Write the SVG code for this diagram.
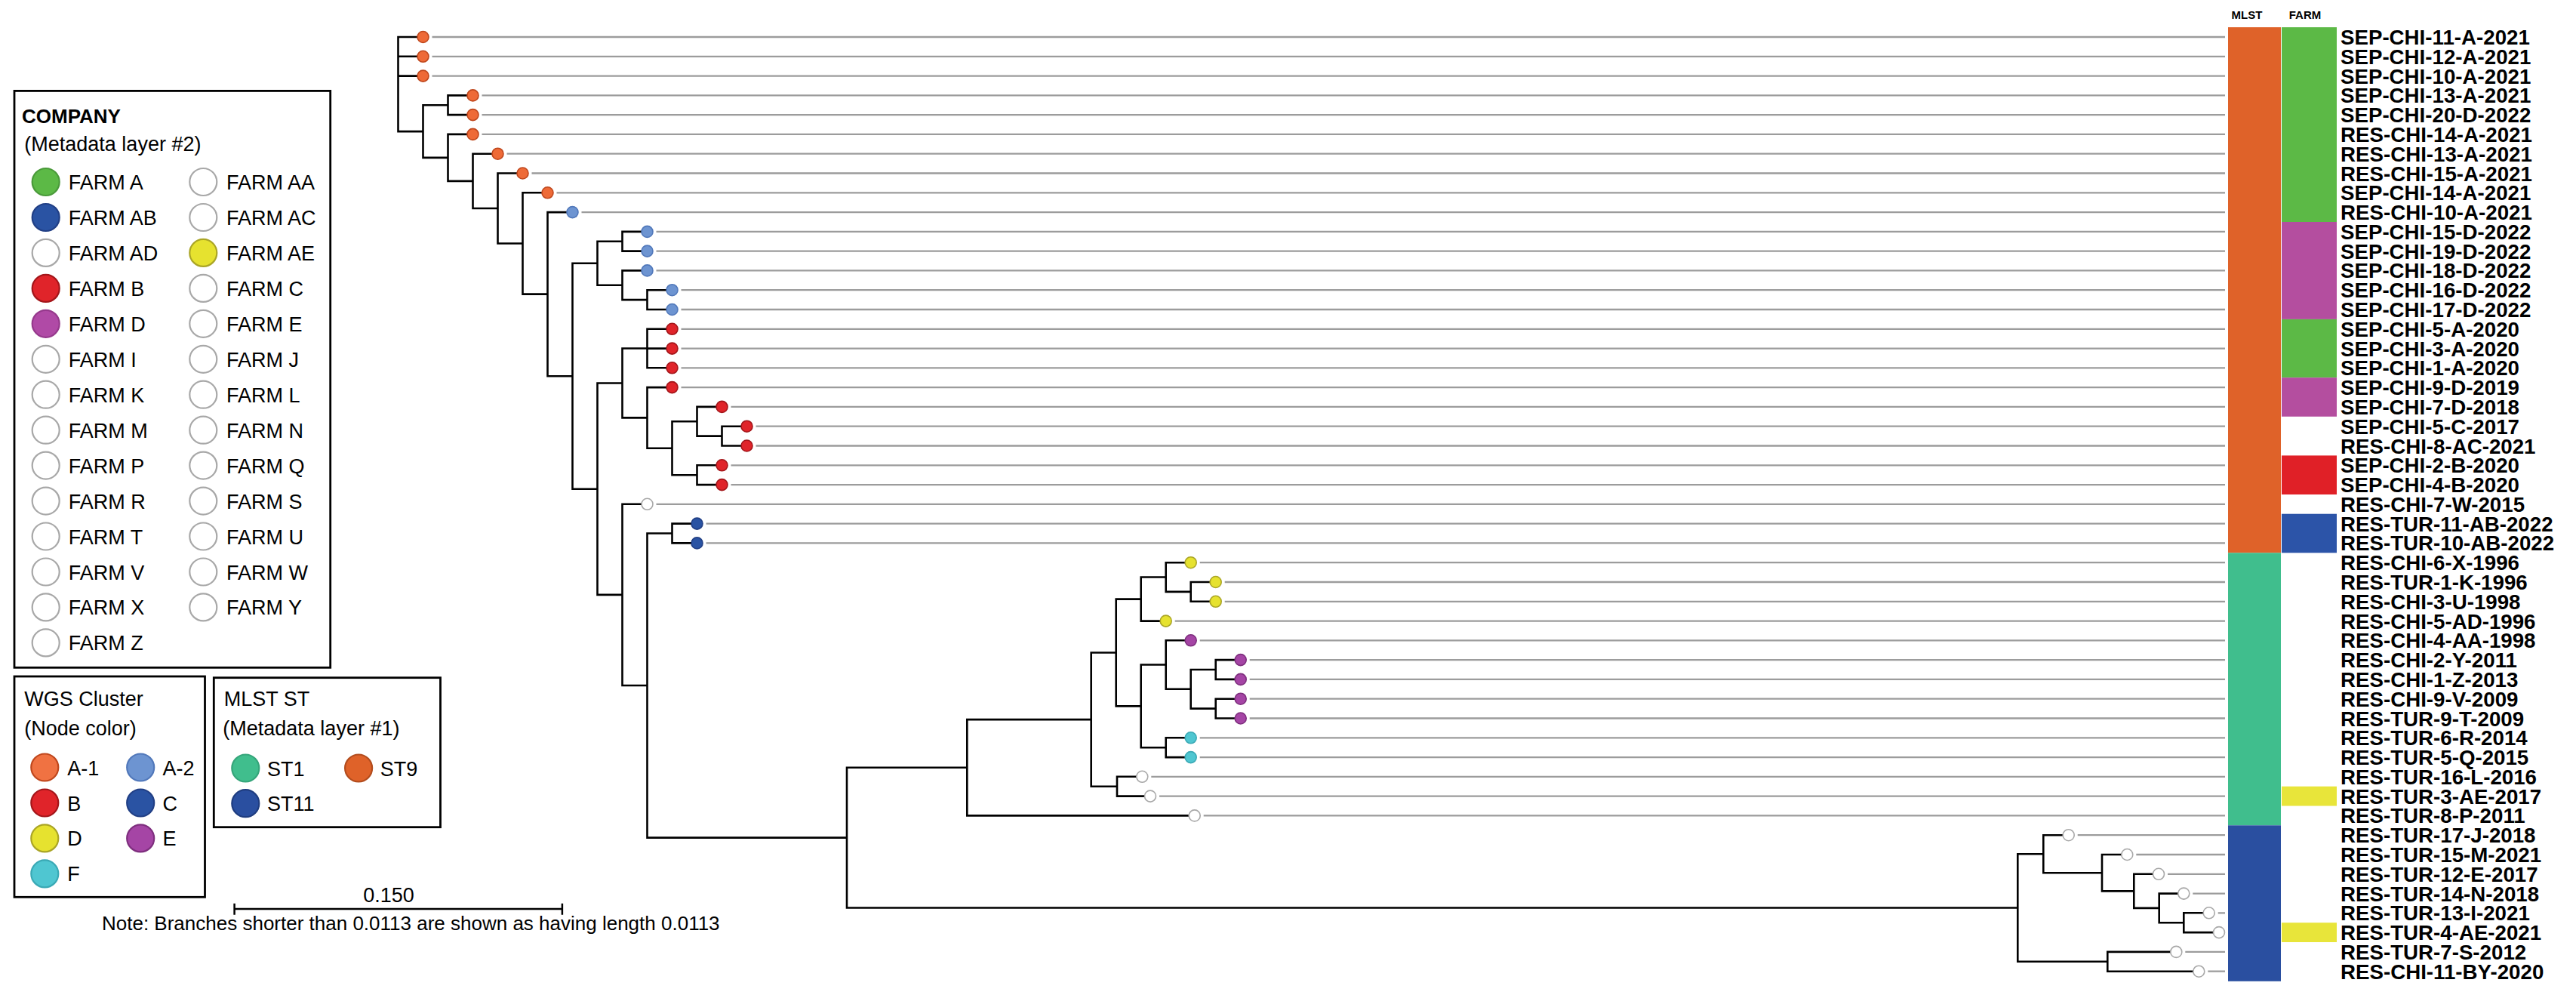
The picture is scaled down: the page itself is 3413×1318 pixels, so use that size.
<svg xmlns="http://www.w3.org/2000/svg" width="3413" height="1318" viewBox="0 0 3413 1318">
<style>
text{font-family:"Liberation Sans",Arial,sans-serif;fill:#000}
.lbl{font-size:27.7px;font-weight:bold}
.lg{font-size:27px}
.hd{font-size:15px;font-weight:bold}
.tree{fill:none;stroke:#000;stroke-width:2.6;stroke-linejoin:miter;stroke-linecap:square}
.lead{fill:none;stroke:#9c9c9c;stroke-width:2.3}
.box{fill:none;stroke:#000;stroke-width:2.8}
.o{fill:#ee6a37;stroke:#bf471d}
.lb{fill:#6d94d1;stroke:#5178ba}
.r{fill:#e0242a;stroke:#a3161a}
.db{fill:#2a53a3;stroke:#213f85}
.y{fill:#e6e22f;stroke:#aaa526}
.p{fill:#a545a5;stroke:#7e2f7e}
.c{fill:#4fc6d1;stroke:#3aa9b5}
.w{fill:#fff;stroke:#a8a8a8}
.g{fill:#5cb946;stroke:#4a9a3a}
.nodes circle{stroke-width:1.6}
.legend circle{stroke-width:2.2}
</style>
<g id="connectors">
<path class="lead" d="M572.5 49H2948M572.5 74.8H2948M572.5 100.6H2948M638.5 126.4H2948M638.5 152.1H2948M638.5 177.9H2948M671.5 203.7H2948M704.5 229.5H2948M737.5 255.3H2948M770.5 281.1H2948M869.5 306.9H2948M869.5 332.6H2948M869.5 358.4H2948M902.5 384.2H2948M902.5 410H2948M902.5 435.8H2948M902.5 461.6H2948M902.5 487.3H2948M902.5 513.1H2948M968.5 538.9H2948M1001.5 564.7H2948M1001.5 590.5H2948M968.5 616.3H2948M968.5 642.1H2948M869.5 667.8H2948M935.5 693.6H2948M935.5 719.4H2948M1589.7 745.2H2948M1622.7 771H2948M1622.7 796.8H2948M1556.7 822.6H2948M1589.7 848.3H2948M1655.7 874.1H2948M1655.7 899.9H2948M1655.7 925.7H2948M1655.7 951.5H2948M1589.7 977.3H2948M1589.7 1003.1H2948M1525.3 1028.8H2948M1536 1054.6H2948M1594.7 1080.4H2948M2752.7 1106.2H2948M2830.3 1132H2948M2872 1157.8H2948M2905.3 1183.6H2948M2938.7 1209.3H2948M2895.3 1260.9H2948M2925.3 1286.7H2948"/>
<path class="tree" d="M560.5 49H527.5V174.1H560.5M527.5 74.8H560.5M527.5 100.6H560.5
M593.5 139.25H560.5V208.9H593.5
M626.5 126.4H593.5V152.1H626.5
M626.5 177.9H593.5V239.85H626.5
M659.5 203.7H626.5V276H659.5
M692.5 229.5H659.5V322.5H692.5
M725.5 255.3H692.5V389.65H725.5
M758.5 281.1H725.5V498.2H758.5
M791.5 348.75H758.5V647.7H791.5
M824.5 319.75H791.5V377.75H824.5
M857.5 306.9H824.5V332.6H857.5
M857.5 358.4H824.5V397.1H857.5
M890.5 384.2H857.5V410H890.5
M824.5 507.5H791.5V787.9H824.5
M857.5 461.55H824.5V553.4H857.5
M890.5 435.8H857.5V487.3H890.5M857.5 461.6H890.5
M890.5 513.1H857.5V593.7H890.5
M923.5 558.25H890.5V629.2H923.5
M956.5 538.9H923.5V577.6H956.5
M989.5 564.7H956.5V590.5H989.5
M956.5 616.3H923.5V642.1H956.5
M857.5 667.8H824.5V908.05H857.5
M890.5 706.5H857.5V1109.6H1122
M923.5 693.6H890.5V719.4H923.5
M1281.3 1016.75H1122V1202.5H2673.3
M1445.7 953.1H1281.3V1080.4H1582.7
M1478.7 864.5H1445.7V1041.7H1480
M1511.7 793.6H1478.7V935.4H1511.7
M1544.7 764.55H1511.7V822.6H1544.7
M1577.7 745.2H1544.7V783.9H1577.7
M1610.7 771H1577.7V796.8H1610.7
M1544.7 880.55H1511.7V990.2H1544.7
M1577.7 848.3H1544.7V912.8H1577.7
M1610.7 887H1577.7V938.6H1610.7
M1643.7 874.1H1610.7V899.9H1643.7
M1643.7 925.7H1610.7V951.5H1643.7
M1577.7 977.3H1544.7V1003.1H1577.7
M1513.3 1028.8H1480V1054.6H1524
M2707.3 1131.2H2673.3V1273.8H2792.3
M2740.7 1106.2H2707.3V1156.2H2785
M2818.3 1132H2785V1180.35H2827.3
M2860 1157.8H2827.3V1202.9H2860.7
M2893.3 1183.6H2860.7V1222.2H2893.3
M2926.7 1209.3H2893.3V1235.1H2940
M2883.3 1260.9H2792.3V1286.7H2913.3"/>
</g>
<g id="metadata">
<text class="hd" x="2977" y="25" text-anchor="middle">MLST</text>
<text class="hd" x="3054" y="25" text-anchor="middle">FARM</text>
<rect x="2952" y="36.1" width="70" height="696.2" fill="#df6229"/>
<rect x="2952" y="732.3" width="70" height="361" fill="#40be8d"/>
<rect x="2952" y="1093.3" width="70" height="206.5" fill="#2a4fa0"/>
<rect x="3023" y="36.1" width="73" height="257.9" fill="#5cb946"/>
<rect x="3023" y="294" width="73" height="128.9" fill="#b44e9f"/>
<rect x="3023" y="422.9" width="73" height="77.3" fill="#5cb946"/>
<rect x="3023" y="500.2" width="73" height="51.6" fill="#b44e9f"/>
<rect x="3023" y="603.4" width="73" height="51.6" fill="#e02027"/>
<rect x="3023" y="680.7" width="73" height="51.6" fill="#2c54a8"/>
<rect x="3023" y="1041.7" width="73" height="25.8" fill="#e8e53a"/>
<rect x="3023" y="1222.2" width="73" height="25.8" fill="#e8e53a"/>
</g>
<g class="nodes">
<g id="leaf-0"><circle class="o" cx="560.5" cy="49" r="7.5"/><text class="lbl" x="3101" y="59">SEP-CHI-11-A-2021</text></g>
<g id="leaf-1"><circle class="o" cx="560.5" cy="74.8" r="7.5"/><text class="lbl" x="3101" y="84.8">SEP-CHI-12-A-2021</text></g>
<g id="leaf-2"><circle class="o" cx="560.5" cy="100.6" r="7.5"/><text class="lbl" x="3101" y="110.6">SEP-CHI-10-A-2021</text></g>
<g id="leaf-3"><circle class="o" cx="626.5" cy="126.4" r="7.5"/><text class="lbl" x="3101" y="136.4">SEP-CHI-13-A-2021</text></g>
<g id="leaf-4"><circle class="o" cx="626.5" cy="152.1" r="7.5"/><text class="lbl" x="3101" y="162.1">SEP-CHI-20-D-2022</text></g>
<g id="leaf-5"><circle class="o" cx="626.5" cy="177.9" r="7.5"/><text class="lbl" x="3101" y="187.9">RES-CHI-14-A-2021</text></g>
<g id="leaf-6"><circle class="o" cx="659.5" cy="203.7" r="7.5"/><text class="lbl" x="3101" y="213.7">RES-CHI-13-A-2021</text></g>
<g id="leaf-7"><circle class="o" cx="692.5" cy="229.5" r="7.5"/><text class="lbl" x="3101" y="239.5">RES-CHI-15-A-2021</text></g>
<g id="leaf-8"><circle class="o" cx="725.5" cy="255.3" r="7.5"/><text class="lbl" x="3101" y="265.3">SEP-CHI-14-A-2021</text></g>
<g id="leaf-9"><circle class="lb" cx="758.5" cy="281.1" r="7.5"/><text class="lbl" x="3101" y="291.1">RES-CHI-10-A-2021</text></g>
<g id="leaf-10"><circle class="lb" cx="857.5" cy="306.9" r="7.5"/><text class="lbl" x="3101" y="316.9">SEP-CHI-15-D-2022</text></g>
<g id="leaf-11"><circle class="lb" cx="857.5" cy="332.6" r="7.5"/><text class="lbl" x="3101" y="342.6">SEP-CHI-19-D-2022</text></g>
<g id="leaf-12"><circle class="lb" cx="857.5" cy="358.4" r="7.5"/><text class="lbl" x="3101" y="368.4">SEP-CHI-18-D-2022</text></g>
<g id="leaf-13"><circle class="lb" cx="890.5" cy="384.2" r="7.5"/><text class="lbl" x="3101" y="394.2">SEP-CHI-16-D-2022</text></g>
<g id="leaf-14"><circle class="lb" cx="890.5" cy="410" r="7.5"/><text class="lbl" x="3101" y="420">SEP-CHI-17-D-2022</text></g>
<g id="leaf-15"><circle class="r" cx="890.5" cy="435.8" r="7.5"/><text class="lbl" x="3101" y="445.8">SEP-CHI-5-A-2020</text></g>
<g id="leaf-16"><circle class="r" cx="890.5" cy="461.6" r="7.5"/><text class="lbl" x="3101" y="471.6">SEP-CHI-3-A-2020</text></g>
<g id="leaf-17"><circle class="r" cx="890.5" cy="487.3" r="7.5"/><text class="lbl" x="3101" y="497.3">SEP-CHI-1-A-2020</text></g>
<g id="leaf-18"><circle class="r" cx="890.5" cy="513.1" r="7.5"/><text class="lbl" x="3101" y="523.1">SEP-CHI-9-D-2019</text></g>
<g id="leaf-19"><circle class="r" cx="956.5" cy="538.9" r="7.5"/><text class="lbl" x="3101" y="548.9">SEP-CHI-7-D-2018</text></g>
<g id="leaf-20"><circle class="r" cx="989.5" cy="564.7" r="7.5"/><text class="lbl" x="3101" y="574.7">SEP-CHI-5-C-2017</text></g>
<g id="leaf-21"><circle class="r" cx="989.5" cy="590.5" r="7.5"/><text class="lbl" x="3101" y="600.5">RES-CHI-8-AC-2021</text></g>
<g id="leaf-22"><circle class="r" cx="956.5" cy="616.3" r="7.5"/><text class="lbl" x="3101" y="626.3">SEP-CHI-2-B-2020</text></g>
<g id="leaf-23"><circle class="r" cx="956.5" cy="642.1" r="7.5"/><text class="lbl" x="3101" y="652.1">SEP-CHI-4-B-2020</text></g>
<g id="leaf-24"><circle class="w" cx="857.5" cy="667.8" r="7.5"/><text class="lbl" x="3101" y="677.8">RES-CHI-7-W-2015</text></g>
<g id="leaf-25"><circle class="db" cx="923.5" cy="693.6" r="7.5"/><text class="lbl" x="3101" y="703.6">RES-TUR-11-AB-2022</text></g>
<g id="leaf-26"><circle class="db" cx="923.5" cy="719.4" r="7.5"/><text class="lbl" x="3101" y="729.4">RES-TUR-10-AB-2022</text></g>
<g id="leaf-27"><circle class="y" cx="1577.7" cy="745.2" r="7.5"/><text class="lbl" x="3101" y="755.2">RES-CHI-6-X-1996</text></g>
<g id="leaf-28"><circle class="y" cx="1610.7" cy="771" r="7.5"/><text class="lbl" x="3101" y="781">RES-TUR-1-K-1996</text></g>
<g id="leaf-29"><circle class="y" cx="1610.7" cy="796.8" r="7.5"/><text class="lbl" x="3101" y="806.8">RES-CHI-3-U-1998</text></g>
<g id="leaf-30"><circle class="y" cx="1544.7" cy="822.6" r="7.5"/><text class="lbl" x="3101" y="832.6">RES-CHI-5-AD-1996</text></g>
<g id="leaf-31"><circle class="p" cx="1577.7" cy="848.3" r="7.5"/><text class="lbl" x="3101" y="858.3">RES-CHI-4-AA-1998</text></g>
<g id="leaf-32"><circle class="p" cx="1643.7" cy="874.1" r="7.5"/><text class="lbl" x="3101" y="884.1">RES-CHI-2-Y-2011</text></g>
<g id="leaf-33"><circle class="p" cx="1643.7" cy="899.9" r="7.5"/><text class="lbl" x="3101" y="909.9">RES-CHI-1-Z-2013</text></g>
<g id="leaf-34"><circle class="p" cx="1643.7" cy="925.7" r="7.5"/><text class="lbl" x="3101" y="935.7">RES-CHI-9-V-2009</text></g>
<g id="leaf-35"><circle class="p" cx="1643.7" cy="951.5" r="7.5"/><text class="lbl" x="3101" y="961.5">RES-TUR-9-T-2009</text></g>
<g id="leaf-36"><circle class="c" cx="1577.7" cy="977.3" r="7.5"/><text class="lbl" x="3101" y="987.3">RES-TUR-6-R-2014</text></g>
<g id="leaf-37"><circle class="c" cx="1577.7" cy="1003.1" r="7.5"/><text class="lbl" x="3101" y="1013.1">RES-TUR-5-Q-2015</text></g>
<g id="leaf-38"><circle class="w" cx="1513.3" cy="1028.8" r="7.5"/><text class="lbl" x="3101" y="1038.8">RES-TUR-16-L-2016</text></g>
<g id="leaf-39"><circle class="w" cx="1524" cy="1054.6" r="7.5"/><text class="lbl" x="3101" y="1064.6">RES-TUR-3-AE-2017</text></g>
<g id="leaf-40"><circle class="w" cx="1582.7" cy="1080.4" r="7.5"/><text class="lbl" x="3101" y="1090.4">RES-TUR-8-P-2011</text></g>
<g id="leaf-41"><circle class="w" cx="2740.7" cy="1106.2" r="7.5"/><text class="lbl" x="3101" y="1116.2">RES-TUR-17-J-2018</text></g>
<g id="leaf-42"><circle class="w" cx="2818.3" cy="1132" r="7.5"/><text class="lbl" x="3101" y="1142">RES-TUR-15-M-2021</text></g>
<g id="leaf-43"><circle class="w" cx="2860" cy="1157.8" r="7.5"/><text class="lbl" x="3101" y="1167.8">RES-TUR-12-E-2017</text></g>
<g id="leaf-44"><circle class="w" cx="2893.3" cy="1183.6" r="7.5"/><text class="lbl" x="3101" y="1193.6">RES-TUR-14-N-2018</text></g>
<g id="leaf-45"><circle class="w" cx="2926.7" cy="1209.3" r="7.5"/><text class="lbl" x="3101" y="1219.3">RES-TUR-13-I-2021</text></g>
<g id="leaf-46"><circle class="w" cx="2940" cy="1235.1" r="7.5"/><text class="lbl" x="3101" y="1245.1">RES-TUR-4-AE-2021</text></g>
<g id="leaf-47"><circle class="w" cx="2883.3" cy="1260.9" r="7.5"/><text class="lbl" x="3101" y="1270.9">RES-TUR-7-S-2012</text></g>
<g id="leaf-48"><circle class="w" cx="2913.3" cy="1286.7" r="7.5"/><text class="lbl" x="3101" y="1296.7">RES-CHI-11-BY-2020</text></g>
</g>
<g class="legend">
<g id="legend-company">
<rect class="box" x="19" y="120.4" width="418.7" height="763.9"/>
<text x="29" y="162.5" font-size="26" font-weight="bold">COMPANY</text>
<text class="lg" x="32.3" y="200">(Metadata layer #2)</text>
<circle class="g" cx="60.7" cy="241" r="18"/><text class="lg" x="90.7" y="251">FARM A</text>
<circle class="w" cx="269.3" cy="241" r="18"/><text class="lg" x="300" y="251">FARM AA</text>
<circle class="db" cx="60.7" cy="288" r="18"/><text class="lg" x="90.7" y="298">FARM AB</text>
<circle class="w" cx="269.3" cy="288" r="18"/><text class="lg" x="300" y="298">FARM AC</text>
<circle class="w" cx="60.7" cy="334.9" r="18"/><text class="lg" x="90.7" y="344.9">FARM AD</text>
<circle class="y" cx="269.3" cy="334.9" r="18"/><text class="lg" x="300" y="344.9">FARM AE</text>
<circle class="r" cx="60.7" cy="381.9" r="18"/><text class="lg" x="90.7" y="391.9">FARM B</text>
<circle class="w" cx="269.3" cy="381.9" r="18"/><text class="lg" x="300" y="391.9">FARM C</text>
<circle class="p" cx="60.7" cy="428.8" r="18" style="fill:#b04aa6;stroke:#96398c"/><text class="lg" x="90.7" y="438.8">FARM D</text>
<circle class="w" cx="269.3" cy="428.8" r="18"/><text class="lg" x="300" y="438.8">FARM E</text>
<circle class="w" cx="60.7" cy="475.8" r="18"/><text class="lg" x="90.7" y="485.8">FARM I</text>
<circle class="w" cx="269.3" cy="475.8" r="18"/><text class="lg" x="300" y="485.8">FARM J</text>
<circle class="w" cx="60.7" cy="522.7" r="18"/><text class="lg" x="90.7" y="532.7">FARM K</text>
<circle class="w" cx="269.3" cy="522.7" r="18"/><text class="lg" x="300" y="532.7">FARM L</text>
<circle class="w" cx="60.7" cy="569.7" r="18"/><text class="lg" x="90.7" y="579.7">FARM M</text>
<circle class="w" cx="269.3" cy="569.7" r="18"/><text class="lg" x="300" y="579.7">FARM N</text>
<circle class="w" cx="60.7" cy="616.6" r="18"/><text class="lg" x="90.7" y="626.6">FARM P</text>
<circle class="w" cx="269.3" cy="616.6" r="18"/><text class="lg" x="300" y="626.6">FARM Q</text>
<circle class="w" cx="60.7" cy="663.6" r="18"/><text class="lg" x="90.7" y="673.6">FARM R</text>
<circle class="w" cx="269.3" cy="663.6" r="18"/><text class="lg" x="300" y="673.6">FARM S</text>
<circle class="w" cx="60.7" cy="710.5" r="18"/><text class="lg" x="90.7" y="720.5">FARM T</text>
<circle class="w" cx="269.3" cy="710.5" r="18"/><text class="lg" x="300" y="720.5">FARM U</text>
<circle class="w" cx="60.7" cy="757.5" r="18"/><text class="lg" x="90.7" y="767.5">FARM V</text>
<circle class="w" cx="269.3" cy="757.5" r="18"/><text class="lg" x="300" y="767.5">FARM W</text>
<circle class="w" cx="60.7" cy="804.4" r="18"/><text class="lg" x="90.7" y="814.4">FARM X</text>
<circle class="w" cx="269.3" cy="804.4" r="18"/><text class="lg" x="300" y="814.4">FARM Y</text>
<circle class="w" cx="60.7" cy="851.4" r="18"/><text class="lg" x="90.7" y="861.4">FARM Z</text>
</g>
<g id="legend-wgs">
<rect class="box" x="19" y="896" width="252.5" height="292.3"/>
<text class="lg" x="32.3" y="935">WGS Cluster</text>
<text class="lg" x="32.3" y="974">(Node color)</text>
<circle class="o" cx="59.3" cy="1016.5" r="18" style="fill:#f07242"/><text class="lg" x="89.3" y="1026.5">A-1</text>
<circle class="lb" cx="186.2" cy="1016.5" r="18"/><text class="lg" x="215.6" y="1026.5">A-2</text>
<circle class="r" cx="59.3" cy="1063.5" r="18"/><text class="lg" x="89.3" y="1073.5">B</text>
<circle class="db" cx="186.2" cy="1063.5" r="18"/><text class="lg" x="215.6" y="1073.5">C</text>
<circle class="y" cx="59.3" cy="1110.4" r="18"/><text class="lg" x="89.3" y="1120.4">D</text>
<circle class="p" cx="186.2" cy="1110.4" r="18"/><text class="lg" x="215.6" y="1120.4">E</text>
<circle class="c" cx="59.3" cy="1157.4" r="18"/><text class="lg" x="89.3" y="1167.4">F</text>
</g>
<g id="legend-mlst">
<rect class="box" x="283.3" y="897.7" width="300.2" height="198"/>
<text class="lg" x="296.7" y="935">MLST ST</text>
<text class="lg" x="295.3" y="974">(Metadata layer #1)</text>
<circle cx="325.3" cy="1017.5" r="18" fill="#40be8d" stroke="#35a57a"/><text class="lg" x="354" y="1027.5">ST1</text>
<circle cx="475.1" cy="1017.5" r="18" fill="#df6229" stroke="#b24c1d"/><text class="lg" x="503.8" y="1027.5">ST9</text>
<circle cx="325.3" cy="1064.2" r="18" fill="#2a4fa0" stroke="#1f3d80"/><text class="lg" x="354" y="1074.2">ST11</text>
</g>
<g id="scale-bar">
<path d="M310.6 1196.7V1211.7M310.6 1204H744.9M744.9 1196.7V1211.7" fill="none" stroke="#000" stroke-width="2.5"/>
<text class="lg" x="515" y="1195" text-anchor="middle">0.150</text>
<text x="135" y="1231.7" font-size="26">Note: Branches shorter than 0.0113 are shown as having length 0.0113</text>
</g>
</g>
</svg>
